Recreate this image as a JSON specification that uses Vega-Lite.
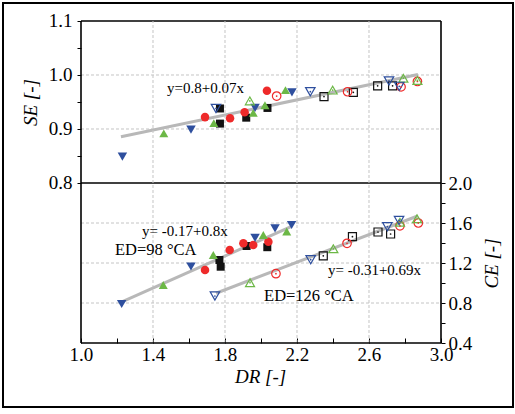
{
  "$schema": "https://vega.github.io/schema/vega-lite/v6.json",
  "width": 510,
  "height": 404,
  "autosize": {"type": "none"},
  "padding": {"left": 3, "top": 3, "right": 2, "bottom": 7},
  "config": {
    "font": "Times New Roman, Liberation Serif, DejaVu Serif, serif",
    "view": {"stroke": "#000000", "strokeWidth": 2},
    "text": {"font": "Times New Roman, Liberation Serif, DejaVu Serif, serif"},
    "axis": {"labelFontSize": 19, "titleFontSize": 19, "labelColor": "#000000", "titleColor": "#000000", "tickColor": "#000000", "titleFontWeight": "normal", "titleFontStyle": "italic", "labelFont": "Times New Roman, Liberation Serif, DejaVu Serif, serif", "titleFont": "Times New Roman, Liberation Serif, DejaVu Serif, serif"}
  },
  "datasets": {
    "se": [
      {"DR": 1.772, "SE": 0.910, "s": "black", "ED": 98},
      {"DR": 1.772, "SE": 0.938, "s": "black", "ED": 98},
      {"DR": 1.918, "SE": 0.921, "s": "black", "ED": 98},
      {"DR": 2.036, "SE": 0.939, "s": "black", "ED": 98},
      {"DR": 1.689, "SE": 0.922, "s": "red", "ED": 98},
      {"DR": 1.828, "SE": 0.920, "s": "red", "ED": 98},
      {"DR": 1.909, "SE": 0.931, "s": "red", "ED": 98},
      {"DR": 2.033, "SE": 0.971, "s": "red", "ED": 98},
      {"DR": 1.460, "SE": 0.892, "s": "green", "ED": 98},
      {"DR": 1.738, "SE": 0.911, "s": "green", "ED": 98},
      {"DR": 1.957, "SE": 0.930, "s": "green", "ED": 98},
      {"DR": 2.022, "SE": 0.944, "s": "green", "ED": 98},
      {"DR": 2.136, "SE": 0.972, "s": "green", "ED": 98},
      {"DR": 1.230, "SE": 0.849, "s": "blue", "ED": 98},
      {"DR": 1.611, "SE": 0.899, "s": "blue", "ED": 98},
      {"DR": 1.967, "SE": 0.939, "s": "blue", "ED": 98},
      {"DR": 2.172, "SE": 0.968, "s": "blue", "ED": 98},
      {"DR": 2.350, "SE": 0.960, "s": "black", "ED": 126},
      {"DR": 2.513, "SE": 0.968, "s": "black", "ED": 126},
      {"DR": 2.648, "SE": 0.980, "s": "black", "ED": 126},
      {"DR": 2.731, "SE": 0.980, "s": "black", "ED": 126},
      {"DR": 2.087, "SE": 0.961, "s": "red", "ED": 126},
      {"DR": 2.481, "SE": 0.969, "s": "red", "ED": 126},
      {"DR": 2.778, "SE": 0.978, "s": "red", "ED": 126},
      {"DR": 2.869, "SE": 0.988, "s": "red", "ED": 126},
      {"DR": 1.938, "SE": 0.952, "s": "green", "ED": 126},
      {"DR": 2.398, "SE": 0.972, "s": "green", "ED": 126},
      {"DR": 2.791, "SE": 0.994, "s": "green", "ED": 126},
      {"DR": 2.869, "SE": 0.990, "s": "green", "ED": 126},
      {"DR": 1.750, "SE": 0.938, "s": "blue", "ED": 126},
      {"DR": 2.274, "SE": 0.969, "s": "blue", "ED": 126},
      {"DR": 2.711, "SE": 0.989, "s": "blue", "ED": 126},
      {"DR": 2.768, "SE": 0.979, "s": "blue", "ED": 126}
    ],
    "ce": [
      {"DR": 1.769, "CE": 1.230, "s": "black", "ED": 98},
      {"DR": 1.776, "CE": 1.163, "s": "black", "ED": 98},
      {"DR": 1.920, "CE": 1.370, "s": "black", "ED": 98},
      {"DR": 2.035, "CE": 1.358, "s": "black", "ED": 98},
      {"DR": 1.689, "CE": 1.130, "s": "red", "ED": 98},
      {"DR": 1.826, "CE": 1.330, "s": "red", "ED": 98},
      {"DR": 1.902, "CE": 1.397, "s": "red", "ED": 98},
      {"DR": 1.957, "CE": 1.380, "s": "red", "ED": 98},
      {"DR": 2.041, "CE": 1.413, "s": "red", "ED": 98},
      {"DR": 1.457, "CE": 0.980, "s": "green", "ED": 98},
      {"DR": 1.735, "CE": 1.280, "s": "green", "ED": 98},
      {"DR": 2.013, "CE": 1.480, "s": "green", "ED": 98},
      {"DR": 2.143, "CE": 1.515, "s": "green", "ED": 98},
      {"DR": 1.226, "CE": 0.790, "s": "blue", "ED": 98},
      {"DR": 1.611, "CE": 1.165, "s": "blue", "ED": 98},
      {"DR": 1.967, "CE": 1.452, "s": "blue", "ED": 98},
      {"DR": 2.078, "CE": 1.547, "s": "blue", "ED": 98},
      {"DR": 2.170, "CE": 1.580, "s": "blue", "ED": 98},
      {"DR": 2.346, "CE": 1.272, "s": "black", "ED": 126},
      {"DR": 2.508, "CE": 1.463, "s": "black", "ED": 126},
      {"DR": 2.650, "CE": 1.510, "s": "black", "ED": 126},
      {"DR": 2.720, "CE": 1.490, "s": "black", "ED": 126},
      {"DR": 2.083, "CE": 1.093, "s": "red", "ED": 126},
      {"DR": 2.478, "CE": 1.397, "s": "red", "ED": 126},
      {"DR": 2.772, "CE": 1.572, "s": "red", "ED": 126},
      {"DR": 2.874, "CE": 1.600, "s": "red", "ED": 126},
      {"DR": 1.939, "CE": 1.003, "s": "green", "ED": 126},
      {"DR": 2.402, "CE": 1.342, "s": "green", "ED": 126},
      {"DR": 2.772, "CE": 1.607, "s": "green", "ED": 126},
      {"DR": 2.867, "CE": 1.642, "s": "green", "ED": 126},
      {"DR": 1.744, "CE": 0.870, "s": "blue", "ED": 126},
      {"DR": 2.276, "CE": 1.233, "s": "blue", "ED": 126},
      {"DR": 2.702, "CE": 1.563, "s": "blue", "ED": 126},
      {"DR": 2.767, "CE": 1.626, "s": "blue", "ED": 126}
    ],
    "fitSE": [
      {"DR": 1.222, "SE": 0.8855},
      {"DR": 2.872, "SE": 1.0010}
    ],
    "fitCE": [
      {"line": "a", "DR": 1.230, "CE": 0.814},
      {"line": "a", "DR": 2.170, "CE": 1.566},
      {"line": "b", "DR": 1.750, "CE": 0.8975},
      {"line": "b", "DR": 2.870, "CE": 1.670}
    ],
    "noteSE": [
      {"DR": 1.478, "SE": 0.9667, "t": "y=0.8+0.07x"}
    ],
    "noteCEeq": [
      {"DR": 1.339, "CE": 1.47, "t": "y= -0.17+0.8x"},
      {"DR": 2.372, "CE": 1.08, "t": "y= -0.31+0.69x"}
    ],
    "noteCEed": [
      {"DR": 1.189, "CE": 1.28, "t": "ED=98 °CA"},
      {"DR": 2.017, "CE": 0.82, "t": "ED=126 °CA"}
    ]
  },
  "resolve": {"scale": {"y": "independent"}},
  "layer": [
    {
      "layer": [
        {
          "data": {"values": [{"g": 0.9}, {"g": 1.0}]},
          "mark": {"type": "rule", "color": "#c4c4c4", "strokeDash": [3, 2], "strokeWidth": 1},
          "encoding": {
            "y": {"field": "g", "type": "quantitative", "scale": {"domain": [0.385185, 1.133333], "nice": false, "zero": false}},
            "x": {"datum": 1, "type": "quantitative", "scale": {"domain": [0.566667, 3.4], "nice": false, "zero": false}},
            "x2": {"datum": 3}
          }
        },
        {
          "data": {"name": "fitSE"},
          "mark": {"type": "line", "color": "#b8b8b8", "strokeWidth": 3},
          "encoding": {
            "x": {"field": "DR", "type": "quantitative", "scale": {"domain": [0.566667, 3.4], "nice": false, "zero": false}},
            "y": {"field": "SE", "type": "quantitative", "scale": {"domain": [0.385185, 1.133333], "nice": false, "zero": false}}
          }
        },
        {
          "data": {"name": "se"},
          "transform": [{"filter": "datum.ED == 98"}],
          "mark": {"type": "point", "filled": true, "opacity": 1},
          "encoding": {
            "x": {"field": "DR", "type": "quantitative", "scale": {"domain": [0.566667, 3.4], "nice": false, "zero": false},
              "axis": {"orient": "bottom", "offset": -64, "values": [1.0, 1.2, 1.4, 1.6, 1.8, 2.0, 2.2, 2.4, 2.6, 2.8, 3.0], "format": ".1f",
                "labelExpr": "round(datum.value*10)%4==2 ? datum.label : ''", "tickSize": -5, "labelPadding": 7,
                "domain": false, "grid": false, "title": "DR [-]", "titleX": 257, "titlePadding": 3}},
            "y": {"field": "SE", "type": "quantitative", "scale": {"domain": [0.385185, 1.133333], "nice": false, "zero": false},
              "axis": {"orient": "left", "offset": -78, "values": [0.8, 0.85, 0.9, 0.95, 1.0, 1.05, 1.1], "format": ".1f",
                "labelExpr": "round(datum.value*100)%10==0 ? datum.label : ''", "tickSize": 4, "labelPadding": 5,
                "domain": false, "grid": false, "title": "SE [-]", "titleY": 99, "titlePadding": 8}},
            "color": {"field": "s", "type": "nominal", "scale": {"domain": ["black", "red", "green", "blue"], "range": ["#111111", "#ee2a2a", "#6cb846", "#2e4f9e"]}, "legend": null},
            "shape": {"field": "s", "type": "nominal", "scale": {"domain": ["black", "red", "green", "blue"], "range": ["square", "circle", "triangle-up", "triangle-down"]}, "legend": null},
            "size": {"field": "s", "type": "nominal", "scale": {"domain": ["black", "red", "green", "blue"], "range": [64, 90, 150, 150]}, "legend": null}
          }
        },
        {
          "data": {"name": "se"},
          "transform": [{"filter": "datum.ED == 126"}],
          "mark": {"type": "point", "filled": false, "strokeWidth": 1.2, "opacity": 1},
          "encoding": {
            "x": {"field": "DR", "type": "quantitative", "scale": {"domain": [0.566667, 3.4], "nice": false, "zero": false}},
            "y": {"field": "SE", "type": "quantitative", "scale": {"domain": [0.385185, 1.133333], "nice": false, "zero": false}},
            "color": {"field": "s", "type": "nominal", "legend": null},
            "shape": {"field": "s", "type": "nominal", "legend": null},
            "size": {"field": "s", "type": "nominal", "legend": null}
          }
        },
        {
          "data": {"name": "se"},
          "transform": [{"filter": "datum.ED == 126"}],
          "mark": {"type": "point", "filled": true, "shape": "circle", "size": 3, "opacity": 1},
          "encoding": {
            "x": {"field": "DR", "type": "quantitative", "scale": {"domain": [0.566667, 3.4], "nice": false, "zero": false}},
            "y": {"field": "SE", "type": "quantitative", "scale": {"domain": [0.385185, 1.133333], "nice": false, "zero": false}},
            "color": {"field": "s", "type": "nominal", "legend": null}
          }
        },
        {
          "data": {"name": "noteSE"},
          "mark": {"type": "text", "align": "left", "baseline": "alphabetic", "fontSize": 15, "color": "#000000"},
          "encoding": {
            "x": {"field": "DR", "type": "quantitative", "scale": {"domain": [0.566667, 3.4], "nice": false, "zero": false}},
            "y": {"field": "SE", "type": "quantitative", "scale": {"domain": [0.385185, 1.133333], "nice": false, "zero": false}},
            "text": {"field": "t"}
          }
        },
        {
          "data": {"values": [{"b": 1.1}, {"b": 0.8}]},
          "mark": {"type": "rule", "color": "#000000", "strokeWidth": 1.6},
          "encoding": {
            "y": {"field": "b", "type": "quantitative", "scale": {"domain": [0.385185, 1.133333], "nice": false, "zero": false}},
            "x": {"datum": 1, "type": "quantitative", "scale": {"domain": [0.566667, 3.4], "nice": false, "zero": false}},
            "x2": {"datum": 3}
          }
        }
      ]
    },
    {
      "layer": [
        {
          "data": {"values": [{"g": 0.8}, {"g": 1.2}, {"g": 1.6}]},
          "mark": {"type": "rule", "color": "#c4c4c4", "strokeDash": [3, 2], "strokeWidth": 1},
          "encoding": {
            "y": {"field": "g", "type": "quantitative", "scale": {"domain": [-0.24, 3.8], "nice": false, "zero": false}},
            "x": {"datum": 1, "type": "quantitative", "scale": {"domain": [0.566667, 3.4], "nice": false, "zero": false}},
            "x2": {"datum": 3}
          }
        },
        {
          "data": {"values": [{"g": 1.4}, {"g": 1.8}, {"g": 2.2}, {"g": 2.6}]},
          "mark": {"type": "rule", "color": "#c4c4c4", "strokeDash": [3, 2], "strokeWidth": 1},
          "encoding": {
            "x": {"field": "g", "type": "quantitative", "scale": {"domain": [0.566667, 3.4], "nice": false, "zero": false}},
            "y": {"datum": 0.4, "type": "quantitative", "scale": {"domain": [-0.24, 3.8], "nice": false, "zero": false}},
            "y2": {"datum": 3.62}
          }
        },
        {
          "data": {"name": "fitCE"},
          "mark": {"type": "line", "color": "#b8b8b8", "strokeWidth": 3},
          "encoding": {
            "x": {"field": "DR", "type": "quantitative", "scale": {"domain": [0.566667, 3.4], "nice": false, "zero": false}},
            "y": {"field": "CE", "type": "quantitative", "scale": {"domain": [-0.24, 3.8], "nice": false, "zero": false}},
            "detail": {"field": "line", "type": "nominal"}
          }
        },
        {
          "data": {"name": "ce"},
          "transform": [{"filter": "datum.ED == 98"}],
          "mark": {"type": "point", "filled": true, "opacity": 1},
          "encoding": {
            "x": {"field": "DR", "type": "quantitative", "scale": {"domain": [0.566667, 3.4], "nice": false, "zero": false}},
            "y": {"field": "CE", "type": "quantitative", "scale": {"domain": [-0.24, 3.8], "nice": false, "zero": false},
              "axis": {"orient": "right", "offset": -72, "values": [0.4, 0.6, 0.8, 1.0, 1.2, 1.4, 1.6, 1.8, 2.0], "format": ".1f",
                "labelExpr": "round(datum.value*10)%4==0 ? datum.label : ''", "tickSize": 4, "labelPadding": 3,
                "domain": false, "grid": false, "title": "CE [-]", "titleY": 260, "titleX": 50, "titleAngle": 270,
                "titleAlign": "center", "titleBaseline": "middle"}},
            "color": {"field": "s", "type": "nominal", "legend": null},
            "shape": {"field": "s", "type": "nominal", "legend": null},
            "size": {"field": "s", "type": "nominal", "legend": null}
          }
        },
        {
          "data": {"name": "ce"},
          "transform": [{"filter": "datum.ED == 126"}],
          "mark": {"type": "point", "filled": false, "strokeWidth": 1.2, "opacity": 1},
          "encoding": {
            "x": {"field": "DR", "type": "quantitative", "scale": {"domain": [0.566667, 3.4], "nice": false, "zero": false}},
            "y": {"field": "CE", "type": "quantitative", "scale": {"domain": [-0.24, 3.8], "nice": false, "zero": false}},
            "color": {"field": "s", "type": "nominal", "legend": null},
            "shape": {"field": "s", "type": "nominal", "legend": null},
            "size": {"field": "s", "type": "nominal", "legend": null}
          }
        },
        {
          "data": {"name": "ce"},
          "transform": [{"filter": "datum.ED == 126"}],
          "mark": {"type": "point", "filled": true, "shape": "circle", "size": 3, "opacity": 1},
          "encoding": {
            "x": {"field": "DR", "type": "quantitative", "scale": {"domain": [0.566667, 3.4], "nice": false, "zero": false}},
            "y": {"field": "CE", "type": "quantitative", "scale": {"domain": [-0.24, 3.8], "nice": false, "zero": false}},
            "color": {"field": "s", "type": "nominal", "legend": null}
          }
        },
        {
          "data": {"name": "noteCEeq"},
          "mark": {"type": "text", "align": "left", "baseline": "alphabetic", "fontSize": 15, "color": "#000000"},
          "encoding": {
            "x": {"field": "DR", "type": "quantitative", "scale": {"domain": [0.566667, 3.4], "nice": false, "zero": false}},
            "y": {"field": "CE", "type": "quantitative", "scale": {"domain": [-0.24, 3.8], "nice": false, "zero": false}},
            "text": {"field": "t"}
          }
        },
        {
          "data": {"name": "noteCEed"},
          "mark": {"type": "text", "align": "left", "baseline": "alphabetic", "fontSize": 16.5, "color": "#000000"},
          "encoding": {
            "x": {"field": "DR", "type": "quantitative", "scale": {"domain": [0.566667, 3.4], "nice": false, "zero": false}},
            "y": {"field": "CE", "type": "quantitative", "scale": {"domain": [-0.24, 3.8], "nice": false, "zero": false}},
            "text": {"field": "t"}
          }
        },
        {
          "data": {"values": [{"b": 0.4}]},
          "mark": {"type": "rule", "color": "#000000", "strokeWidth": 1.6},
          "encoding": {
            "y": {"field": "b", "type": "quantitative", "scale": {"domain": [-0.24, 3.8], "nice": false, "zero": false}},
            "x": {"datum": 1, "type": "quantitative", "scale": {"domain": [0.566667, 3.4], "nice": false, "zero": false}},
            "x2": {"datum": 3}
          }
        },
        {
          "data": {"values": [{"b": 1.0}, {"b": 3.0}]},
          "mark": {"type": "rule", "color": "#000000", "strokeWidth": 1.6},
          "encoding": {
            "x": {"field": "b", "type": "quantitative", "scale": {"domain": [0.566667, 3.4], "nice": false, "zero": false}},
            "y": {"datum": 0.4, "type": "quantitative", "scale": {"domain": [-0.24, 3.8], "nice": false, "zero": false}},
            "y2": {"datum": 3.62}
          }
        }
      ]
    }
  ]
}
